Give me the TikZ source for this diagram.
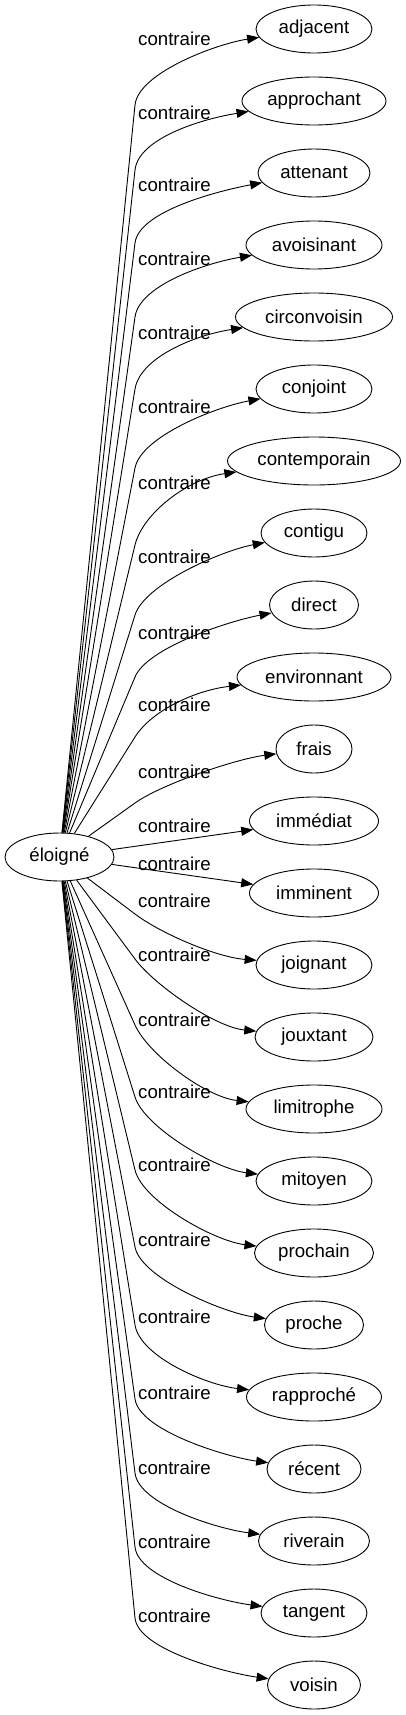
\documentclass[tikz,border=0pt]{standalone}
\usepackage{fontspec}
\setmainfont{Liberation Sans}
\usetikzlibrary{arrows.meta,calc,shapes.geometric}

\tikzset{
	mot/.style={draw, ellipse, line width=0.9pt, inner sep=0pt, minimum height=48pt, font=\fontsize{18.67}{22}\selectfont},
	lien/.style={line width=0.9pt, -{Triangle[length=12pt,width=9pt]}},
	etiquette/.style={inner sep=0pt, font=\fontsize{18.67}{22}\selectfont}
}

\begin{document}
\begin{tikzpicture}[x=1pt,y=-1pt]
	\useasboundingbox (0,0) rectangle (405,1715);
	\node[mot, minimum width=109pt] (e) at (59.5,857) {éloigné};
	
	%% les contraires, un par rang
	\foreach \txt/\w/\yl/\yb/\dy [count=\i from 0] in {
		adjacent/116/39/105/15, approchant/144/113/170/18, attenant/112/185/243/18,
		avoisinant/136/259/317/18, circonvoisin/157/333/389/18, conjoint/116/407/468/18,
		contemporain/173/483/545/18, contigu/106/557/615/18, direct/89/633/677/16,
		environnant/154/705/737/13, frais/76/772/803/10, immédiat/129/826/0/0,
		imminent/129/864/0/0, joignant/116/901/914/-8, jouxtant/118/955/959/-10,
		limitrophe/136/1020/1025/-12, mitoyen/116/1092/1097/-12, prochain/119/1165/1170/-12,
		proche/99/1240/1247/-12, rapproché/135/1317/1325/-12, récent/94/1393/1399/-12,
		riverain/111/1468/1473/-12, tangent/106/1542/1547/-12, voisin/93/1616/1618/-12}{
		\node[mot, minimum width=\w pt] (n\i) at (314,29+72*\i) {\txt};
		\node[etiquette] (l\i) at (174.5,\yl) {contraire};
		\ifnum\yb=0
			\draw[lien] (e) -- (n\i);
		\else
			\coordinate (b\i) at (135,\yb);
			\draw[lien] (e) -- (b\i) .. controls ($(b\i)!-32pt!(e)$) and ($(n\i.west)+(-40,\dy)$) .. (n\i);
		\fi
	}
\end{tikzpicture}
\end{document}
